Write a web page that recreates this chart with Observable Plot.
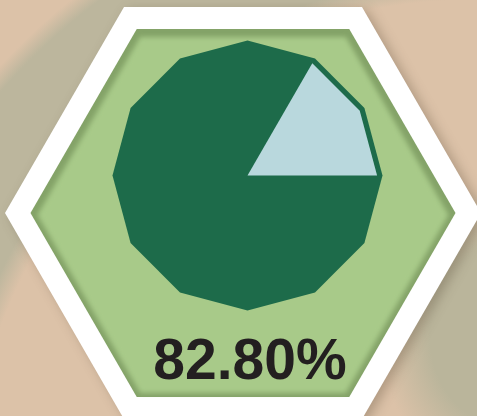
<!DOCTYPE html>
<html>
<head>
<meta charset="utf-8">
<script src="https://cdn.jsdelivr.net/npm/d3@7"></script>
<script src="https://cdn.jsdelivr.net/npm/@observablehq/plot@0.6"></script>
<style>
  html, body { margin: 0; padding: 0; }
  #chart {
    width: 477px; height: 416px; overflow: hidden;
    background:
      radial-gradient(ellipse 125px 150px at 505px 335px, #bab59b 60%, rgba(186,181,155,0) 100%),
      radial-gradient(circle at 470px 500px, rgba(188,183,157,0) 0 500px, #bcb69d 522px 622px, rgba(188,183,157,0) 640px),
      #dcc2a8;
  }
</style>
</head>
<body>
<div id="chart"></div>
<script>
// ---- data ----
const categories = ["Yes", "No"];
const values = [82.8, 17.2];
const sliceColors = ["#1d6b4a", "#b9d8dd"];
const labelText = values[0].toFixed(2) + "%";

// ---- layout ----
const W = 477, H = 416;
const hex = {cx: 242.5, cy: 212.5};
const pie = {cx: 247, cy: 175, r: 135, sides: 12, inset: 0.96};

function hexagon(cx, cy, r) {
  const pts = [];
  for (let i = 0; i <= 6; i++) {
    const a = (i % 6) * Math.PI / 3;
    pts.push({x: cx + r * Math.cos(a), y: cy + r * Math.sin(a)});
  }
  return pts;
}
function polyPoint(a, r) {
  return {x: pie.cx + r * Math.cos(a), y: pie.cy - r * Math.sin(a)};
}
// full polygon (total)
const base = d3.range(pie.sides + 1).map(i => polyPoint(i * 2 * Math.PI / pie.sides, pie.r));
// highlighted slice, snapped to polygon vertices
const total = d3.sum(values);
const steps = Math.round(values[1] / total * pie.sides);
const slice = [{x: pie.cx, y: pie.cy}]
  .concat(d3.range(steps + 1).map(i => polyPoint(i * 2 * Math.PI / pie.sides, pie.r * pie.inset)))
  .concat([{x: pie.cx, y: pie.cy}]);

const shadowHex = hexagon(hex.cx + 5, hex.cy + 3, 238);
const whiteHex = hexagon(hex.cx, hex.cy, 238);
const edgeHex = hexagon(hex.cx, hex.cy, 212.5);
const innerHex = hexagon(hex.cx, hex.cy + 2, 205.5);

const chart = Plot.plot({
  width: W, height: H,
  margin: 0,
  x: {type: "identity", axis: null},
  y: {type: "identity", axis: null},
  style: {background: "transparent", overflow: "visible"},
  marks: [
    Plot.line(shadowHex, {x: "x", y: "y", fill: "rgba(60,45,30,0.28)", stroke: "none"}),
    Plot.line(whiteHex, {x: "x", y: "y", fill: "#ffffff", stroke: "none"}),
    Plot.line(edgeHex, {x: "x", y: "y", fill: "#84a368", stroke: "none"}),
    Plot.line(innerHex, {x: "x", y: "y", fill: "#a8ca89", stroke: "none"}),
    Plot.line(base, {x: "x", y: "y", fill: sliceColors[0], stroke: "none"}),
    Plot.line(slice, {x: "x", y: "y", fill: sliceColors[1], stroke: "none"}),
    Plot.text([labelText], {
      x: () => 249.5, y: () => 360, text: d => d,
      fontSize: 57, fontWeight: "bold", fill: "#231f20",
      fontFamily: "Liberation Sans, Arial, sans-serif", textAnchor: "middle"
    })
  ]
});

const groups = d3.select(chart).selectAll('g[aria-label="line"]').nodes();
if (groups[0]) groups[0].style.filter = "blur(6px)";
if (groups[3]) groups[3].style.filter = "blur(2.5px)";

document.getElementById("chart").appendChild(chart);
</script>
</body>
</html>
